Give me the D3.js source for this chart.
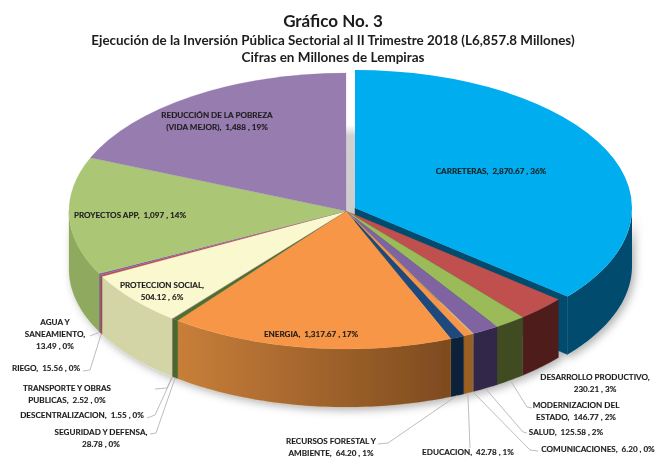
<!DOCTYPE html>
<html><head><meta charset="utf-8">
<script src="https://cdn.jsdelivr.net/npm/d3@7"></script>
<style>html,body{margin:0;padding:0;background:#fff}svg{display:block}text{font-family:Lato,"Open Sans",sans-serif;font-weight:700;fill:#1c1c1c;white-space:pre}</style>
</head><body><svg id="c" width="656" height="458"></svg>
<script>
const sectors=["CARRETERAS","DESARROLLO PRODUCTIVO","MODERNIZACION DEL ESTADO","SALUD","COMUNICACIONES","EDUCACION","RECURSOS FORESTAL Y AMBIENTE","ENERGIA","SEGURIDAD Y DEFENSA","DESCENTRALIZACION","TRANSPORTE Y OBRAS PUBLICAS","PROTECCION SOCIAL","RIEGO","AGUA Y SANEAMIENTO","PROYECTOS APP","REDUCCIÓN DE LA POBREZA (VIDA MEJOR)"];
const values=[2870.67,230.21,146.77,125.58,6.20,42.78,64.20,1317.67,28.78,1.55,2.52,504.12,15.56,13.49,1097,1488];
const topColors=["#00ADEE","#C0504D","#9BBB59","#8064A2","#C9B27A","#F79646","#1F497D","#F79646","#4F6F2C","#7F9ED0","#C0504D","#FAF8CF","#C0504D","#8064A2","#ABC776","#977CB0"];
const sideColors=["#044B6E","#4F1F1E","#3F4C24","#32274A","#8A6A3A","#9A5E20","#0E2339","url(#energy)","#47692A","#6F8DB8","#8A3A38","#D4D5A6","#A04A48","#6F5688","#8FAA5E","#6F5688"];
const titleLines=["Gráfico No. 3","Ejecución de la Inversión Pública Sectorial al II Trimestre 2018 (L6,857.8 Millones)","Cifras en Millones de Lempiras"];
const labelLines=[["CARRETERAS,  2,870.67 , 36%"],["DESARROLLO PRODUCTIVO,","230.21 , 3%"],["MODERNIZACION DEL","ESTADO,  146.77 , 2%"],["SALUD,  125.58 , 2%"],["COMUNICACIONES,  6.20 , 0%"],["EDUCACION,  42.78 , 1%"],["RECURSOS FORESTAL Y","AMBIENTE,  64.20 , 1%"],["ENERGIA,  1,317.67 , 17%"],["SEGURIDAD Y DEFENSA,","28.78 , 0%"],["DESCENTRALIZACION,  1.55 , 0%"],["TRANSPORTE Y OBRAS","PUBLICAS,  2.52 , 0%"],["PROTECCION SOCIAL,","504.12 , 6%"],["RIEGO,  15.56 , 0%"],["AGUA Y","SANEAMIENTO,","13.49 , 0%"],["PROYECTOS APP,  1,097 , 14%"],["REDUCCIÓN DE LA POBREZA","(VIDA MEJOR),  1,488 , 19%"]];

// layout (label centre x, first baseline y, leader waypoints)
const labelLayout=[[491,174],[595,380],[576,408],[566,435],[598,452],[468,454.5],[331,444],[311,337],[101,435],[82,418],[67,391],[162,288],[46,371],[55,325],[130,218],[217,118]];
const leaders={2:[[527,407],[532,408]],3:[[523,432],[527,433]],4:[[530,450],[538,451]],5:[[470,448]],6:[[388,443],[378,444]],8:[[156,433],[150,434]],9:[[155,415],[147,418]],10:[[167,388],[155,389]],12:[[90,370],[83,371]],13:[[90,336]]};
const cx=346,cy=211,rx=277,ry=138,depth=58,ox=9,oy=-3;

const svg=d3.select("#c");
const defs=svg.append("defs");
const eg=defs.append("linearGradient").attr("id","energy").attr("gradientUnits","userSpaceOnUse").attr("x1",175).attr("x2",455).attr("y1",0).attr("y2",0);
eg.append("stop").attr("offset",0).attr("stop-color","#C97F3A");
eg.append("stop").attr("offset",1).attr("stop-color","#7C4A1E");
const gap=defs.append("linearGradient").attr("id","gap").attr("x1",0).attr("x2",0).attr("y1",0).attr("y2",1);
gap.append("stop").attr("offset",0).attr("stop-color","#fff");
gap.append("stop").attr("offset",.12).attr("stop-color","#d0d0d0");
gap.append("stop").attr("offset",1).attr("stop-color","#cdcdcd");
const sh=defs.append("filter").attr("id","shadow").attr("x","-10%").attr("y","-10%").attr("width","120%").attr("height","125%");
sh.append("feDropShadow").attr("dx",3).attr("dy",3).attr("stdDeviation",4).attr("flood-color","#000").attr("flood-opacity",.3);
const soft=defs.append("filter").attr("id","soft").attr("x","-5%").attr("y","-20%").attr("width","110%").attr("height","140%");
soft.append("feGaussianBlur").attr("stdDeviation",.25);

const pie=d3.pie().value(d=>d).sort(null)(values);
const arc=d3.arc().innerRadius(0).outerRadius(rx);
const pt=(a,dx,dy)=>[cx+dx+rx*Math.sin(a),cy+dy+ry*-Math.cos(a)];
const line=d3.line();
function sidePath(a0,a1,dx,dy){
  const s=Math.max(a0,Math.PI/2),e=Math.min(a1,Math.PI*1.5);
  if(e<=s) return null;
  const n=Math.max(2,Math.ceil((e-s)*60));
  const as=d3.range(n+1).map(i=>s+(e-s)*i/n);
  const up=as.map(a=>pt(a,dx,dy));
  const dn=as.slice().reverse().map(a=>{const p=pt(a,dx,dy);return [p[0],p[1]+depth];});
  return line(up.concat(dn))+"Z";
}
svg.append("rect").attr("x",cx-1).attr("y",125).attr("width",ox+2).attr("height",90).attr("fill","url(#gap)");
const sideG=svg.append("g").attr("filter","url(#shadow)");
const blue=pie[0];
const tip=pt(blue.endAngle,ox,oy);
sideG.append("path").attr("fill",sideColors[0]).attr("stroke",sideColors[0]).attr("stroke-width",.4)
  .attr("d",line([[cx+ox,cy+oy],tip,[tip[0],tip[1]+depth],[cx+ox,cy+oy+depth]])+"Z");
sideG.append("path").attr("fill",sideColors[0]).attr("d",sidePath(blue.startAngle,blue.endAngle,ox,oy));
pie.slice(1).forEach(d=>{
  const p=sidePath(d.startAngle,d.endAngle,0,0);
  if(p) sideG.append("path").attr("d",p).attr("fill",sideColors[d.index]).attr("stroke",sideColors[d.index]).attr("stroke-width",.3);
});
const topT=(dx,dy)=>`translate(${cx+dx},${cy+dy}) scale(1,${ry/rx})`;
const topG=svg.append("g");
topG.append("path").attr("fill",topColors[0]).attr("transform",topT(ox,oy)).attr("d",arc(blue));
pie.slice(1).forEach(d=>{
  topG.append("path").attr("d",arc(d)).attr("transform",topT(0,0)).attr("fill",topColors[d.index]).attr("stroke",topColors[d.index]).attr("stroke-width",.3);
});
// leaders
Object.keys(leaders).forEach(k=>{
  const w=leaders[k];
  const d=pie[k],m=(d.startAngle+d.endAngle)/2,s=pt(m,0,0);
  svg.append("path").attr("fill","none").attr("stroke","#b5b5b5").attr("stroke-width",.9)
    .attr("d",line([[s[0],s[1]+depth],...w]));
});
// text
const tg=svg.append("g").attr("filter","url(#soft)").attr("text-anchor","middle");
[[333,27,17],[333,45,13.4],[333,62,13.5]].forEach((l,i)=>tg.append("text").attr("x",l[0]).attr("y",l[1]).attr("font-size",l[2]).text(titleLines[i]));
const lh=11.8;
labelLines.forEach((ls,i)=>{
  const [x,y]=labelLayout[i];
  ls.forEach((t,j)=>tg.append("text").attr("x",x).attr("y",y+j*lh).attr("font-size",8.1).attr("stroke","#1c1c1c").attr("stroke-width",.12).text(t));
});
</script></body></html>
